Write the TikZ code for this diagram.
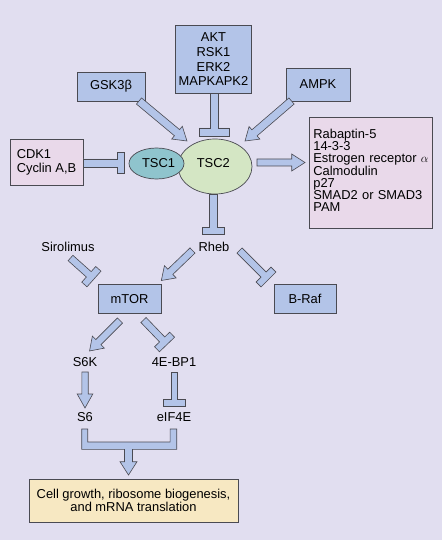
\documentclass[tikz,border=0pt]{standalone}
\usepackage{fontspec}
\setmainfont{Liberation Sans}
\usetikzlibrary{calc,shapes.geometric}
\definecolor{bg}{HTML}{E1DEF0}
\definecolor{boxblue}{HTML}{B3C4E8}
\definecolor{boxpink}{HTML}{E9D9EA}
\definecolor{boxyellow}{HTML}{F7E8C2}
\definecolor{tscone}{HTML}{8FC4CD}
\definecolor{tsctwo}{HTML}{D4E6C4}
\definecolor{edge}{HTML}{4A4A52}
\tikzset{
  box/.style={draw=edge, line width=0.7pt, inner sep=0pt, align=center},
  bluebox/.style={box, fill=boxblue},
  pinkbox/.style={box, fill=boxpink},
  lbl/.style={inner sep=0pt},
  fatshape/.style={fill=boxblue, draw=edge, line width=0.6pt, line join=miter},
}
% #1 from, #2 to, #3 shaft half width, #4 head half width, #5 head length
\newcommand{\FatArrow}[5]{%
  \path let \p1=(#1), \p2=(#2) in \pgfextra{%
    \pgfmathsetmacro\FAangA{atan2(\y2-\y1,\x2-\x1)}%
    \pgfmathsetmacro\FAlenA{veclen(\x2-\x1,\y2-\y1)}%
    \pgfmathsetmacro\FAbA{\FAlenA-#5}%
    \xdef\FAang{\FAangA}\xdef\FAlen{\FAlenA}\xdef\FAb{\FAbA}%
    \xdef\FAx{\x1}\xdef\FAy{\y1}};
  \begin{scope}[shift={(\FAx,\FAy)},rotate=\FAang]
    \draw[fatshape] (0pt,-#3pt) -- (\FAb pt,-#3pt) -- (\FAb pt,-#4pt) -- (\FAlen pt,0pt)
      -- (\FAb pt,#4pt) -- (\FAb pt,#3pt) -- (0pt,#3pt) -- cycle;
  \end{scope}}
% #1 from, #2 to, #3 stem half width, #4 bar half width, #5 bar thickness
\newcommand{\TBar}[5]{%
  \path let \p1=(#1), \p2=(#2) in \pgfextra{%
    \pgfmathsetmacro\FAangA{atan2(\y2-\y1,\x2-\x1)}%
    \pgfmathsetmacro\FAlenA{veclen(\x2-\x1,\y2-\y1)}%
    \pgfmathsetmacro\FAbA{\FAlenA-#5}%
    \xdef\FAang{\FAangA}\xdef\FAlen{\FAlenA}\xdef\FAb{\FAbA}%
    \xdef\FAx{\x1}\xdef\FAy{\y1}};
  \begin{scope}[shift={(\FAx,\FAy)},rotate=\FAang]
    \draw[fatshape] (0pt,-#3pt) -- (\FAb pt,-#3pt) -- (\FAb pt,-#4pt) -- (\FAlen pt,-#4pt)
      -- (\FAlen pt,#4pt) -- (\FAb pt,#4pt) -- (\FAb pt,#3pt) -- (0pt,#3pt) -- cycle;
  \end{scope}}
\begin{document}
\begin{tikzpicture}[x=1pt,y=-1pt,font=\fontsize{12.9}{14.7}\selectfont]
\fill[bg] (0,0) rectangle (442,540);

% boxes
\node[bluebox, minimum width=75.6pt, minimum height=67.6pt] (akt) at (213.5,59.5) {AKT\\RSK1\\ERK2\\MAPKAPK2};
\node[bluebox, minimum width=68pt, minimum height=29pt] (gsk) at (111,86.5) {GSK3β};
\node[bluebox, minimum width=64pt, minimum height=33pt] (ampk) at (318,84.5) {AMPK};
\node[pinkbox, minimum width=73pt, minimum height=46pt, align=left,
      font=\fontsize{12.9}{13.7}\selectfont] (cdk) at (46.5,162) {CDK1\\Cyclin A,B};
\node[pinkbox, anchor=north west, minimum width=123pt, minimum height=111pt, align=left,
      text width=115pt, font=\fontsize{12.9}{12.2}\selectfont] (rab) at (309,117)
      {Rabaptin-5\\14-3-3\\\mbox{Estrogen receptor $\alpha$}\\Calmodulin\\p27\\SMAD2 or SMAD3\\PAM\rule[-5pt]{0pt}{1pt}};

% TSC complex
\node[ellipse, draw=edge, line width=0.7pt, fill=tsctwo, minimum width=74pt, minimum height=55pt, inner sep=0pt] (tsc2) at (215,166.5) {};
\node[ellipse, draw=edge, line width=0.7pt, fill=tscone, minimum width=55pt, minimum height=31pt, inner sep=0pt] (tsc1) at (156.5,163.5) {};
\node[lbl] (tsc1t) at (158.5,163) {TSC1};
\node[lbl] (tsc2t) at (213.3,163) {TSC2};

% lower nodes
\node[lbl] (rheb) at (214,246.7) {Rheb};
\node[lbl] (siro) at (68,246.7) {Sirolimus};
\node[bluebox, minimum width=63pt, minimum height=29.3pt] (mtor) at (129.5,298.7) {mTOR};
\node[bluebox, minimum width=62pt, minimum height=29pt] (braf) at (305,298.5) {B-Raf};
\node[lbl] (s6k) at (85,362) {S6K};
\node[lbl] (ebp) at (174,362) {4E-BP1};
\node[lbl] (s6) at (85,417) {S6};
\node[lbl] (eif) at (174,417) {eIF4E};
\node[box, fill=boxyellow, minimum width=209pt, minimum height=43pt,
      font=\fontsize{12.9}{13.3}\selectfont] (out) at (133.5,500.5)
      {Cell growth, ribosome biogenesis,\\and mRNA translation};

% connector end points
\coordinate (gskS) at (139,101);   \coordinate (gskE) at (187,141);
\coordinate (aktS) at (214,93.3);  \coordinate (aktE) at (214,136);
\coordinate (ampkS) at (291.5,101); \coordinate (ampkE) at (245,141);
\coordinate (cdkS) at (83,163);    \coordinate (cdkE) at (124,163);
\coordinate (rabS) at (257,162.5); \coordinate (rabE) at (305,162.5);
\coordinate (tscS) at (213,194);   \coordinate (tscE) at (213,234);
\coordinate (siroS) at (70.5,258); \coordinate (siroE) at (94,279);
\coordinate (rhebA) at (192.5,250.5); \coordinate (mtorE) at (161.3,280.5);
\coordinate (rhebB) at (239.5,250.5); \coordinate (brafE) at (268.5,279.5);
\coordinate (mtorA) at (120,320.5); \coordinate (s6kE) at (89.5,351);
\coordinate (mtorB) at (143.5,320); \coordinate (ebpE) at (167,344.5);
\coordinate (s6kS) at (85,372);    \coordinate (s6E) at (85,408);
\coordinate (ebpS) at (174.3,372); \coordinate (eifE) at (174.3,406);
\coordinate (mL) at (84.7,429);    \coordinate (mR) at (173.4,429);
\coordinate (mT) at (128.5,475);

\FatArrow{gskS}{gskE}{4}{8.3}{13}
\TBar{aktS}{aktE}{4}{15}{8}
\FatArrow{ampkS}{ampkE}{4}{8.3}{12.5}
\TBar{cdkS}{cdkE}{4}{10.5}{7}
\FatArrow{rabS}{rabE}{3.5}{8.5}{13.3}
\TBar{tscS}{tscE}{4}{11}{7}
\TBar{siroS}{siroE}{3.6}{10.5}{7}
\FatArrow{rhebA}{mtorE}{3.6}{8.5}{12.5}
\TBar{rhebB}{brafE}{3.6}{10.5}{7}
\FatArrow{mtorA}{s6kE}{3.6}{8.5}{12.5}
\TBar{mtorB}{ebpE}{3.6}{10.5}{7}
\FatArrow{s6kS}{s6E}{3.2}{7.8}{14}
\TBar{ebpS}{eifE}{2.7}{11}{7}

% merging bracket to output
\draw[fatshape] ($(mL)+(-3,0)$) -- ($(mL)+(3,0)$) -- ($(mL)+(3,13)$) -- ($(mR)+(-3.35,13)$)
  -- ($(mR)+(-3.35,0)$) -- ($(mR)+(3.35,0)$) -- ($(mR)+(3.35,20.3)$) -- ($(mT)+(4,-25.7)$)
  -- ($(mT)+(4,-13.3)$) -- ($(mT)+(8.5,-13.3)$) -- (mT) -- ($(mT)+(-8.5,-13.3)$)
  -- ($(mT)+(-4,-13.3)$) -- ($(mT)+(-4,-25.7)$) -- ($(mL)+(-3,20.3)$) -- cycle;
\end{tikzpicture}
\end{document}
